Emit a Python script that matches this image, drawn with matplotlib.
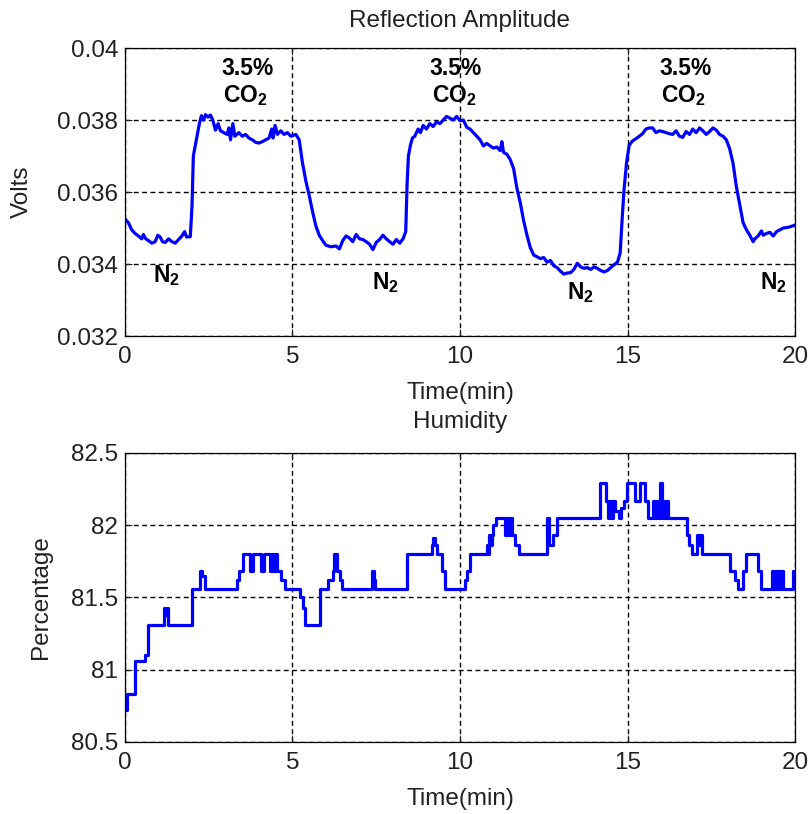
import matplotlib
matplotlib.use('Agg')
import matplotlib.pyplot as plt

plt.rcParams['font.family'] = ['Liberation Sans', 'DejaVu Sans']
plt.rcParams['mathtext.fontset'] = 'custom'
plt.rcParams['mathtext.rm'] = 'Liberation Sans'
plt.rcParams['mathtext.bf'] = 'Liberation Sans:bold'

# reflection amplitude (time in min, volts)
refl_t = [0.00, 0.10, 0.20, 0.30, 0.40, 0.50, 0.55, 0.62, 0.70, 0.80, 0.90, 0.98,
          1.05, 1.12, 1.20, 1.30, 1.40, 1.50, 1.60, 1.70, 1.78, 1.84, 1.95, 2.00,
          2.04, 2.10, 2.16, 2.22, 2.28, 2.35, 2.40, 2.48, 2.55, 2.62, 2.70, 2.78,
          2.85, 2.95, 3.05, 3.10, 3.15, 3.22, 3.28, 3.40, 3.50, 3.60, 3.70, 3.80,
          3.90, 4.00, 4.10, 4.20, 4.30, 4.38, 4.42, 4.48, 4.55, 4.65, 4.75, 4.85,
          4.95, 5.10, 5.20, 5.30, 5.40, 5.50, 5.60, 5.70, 5.80, 5.90, 6.00, 6.15,
          6.30, 6.40, 6.50, 6.60, 6.70, 6.80, 6.90, 7.00, 7.10, 7.20, 7.30, 7.40,
          7.50, 7.60, 7.70, 7.80, 7.90, 8.00, 8.10, 8.20, 8.30, 8.38, 8.42, 8.46,
          8.52, 8.58, 8.65, 8.75, 8.82, 8.90, 9.00, 9.10, 9.20, 9.30, 9.40, 9.50,
          9.60, 9.70, 9.80, 9.90, 10.00, 10.10, 10.20, 10.30, 10.40, 10.50, 10.60,
          10.70, 10.80, 10.90, 11.00, 11.10, 11.20, 11.25, 11.30, 11.40, 11.50,
          11.60, 11.70, 11.80, 11.90, 12.00, 12.10, 12.20, 12.30, 12.40, 12.50,
          12.60, 12.70, 12.80, 12.90, 13.00, 13.10, 13.20, 13.30, 13.40, 13.50,
          13.60, 13.70, 13.80, 13.90, 14.00, 14.10, 14.20, 14.30, 14.40, 14.50,
          14.60, 14.70, 14.78, 14.85, 14.90, 14.97, 15.05, 15.15, 15.25, 15.35,
          15.45, 15.55, 15.65, 15.75, 15.85, 15.95, 16.05, 16.15, 16.25, 16.35,
          16.45, 16.55, 16.65, 16.75, 16.85, 16.95, 17.05, 17.15, 17.25, 17.35,
          17.45, 17.55, 17.65, 17.75, 17.85, 17.95, 18.05, 18.15, 18.25, 18.35,
          18.45, 18.55, 18.65, 18.75, 18.80, 18.90, 19.00, 19.05, 19.15, 19.25,
          19.35, 19.45, 19.55, 19.65, 19.80, 20.00]
refl_v = [0.03525, 0.03515, 0.03495, 0.03485, 0.03478, 0.03470, 0.03482, 0.03470,
          0.03465, 0.03458, 0.03462, 0.03480, 0.03475, 0.03462, 0.03460, 0.03470,
          0.03462, 0.03458, 0.03468, 0.03478, 0.03490, 0.03475, 0.03476, 0.03560,
          0.03700, 0.03730, 0.03760, 0.03790, 0.03812, 0.03800, 0.03815, 0.03808,
          0.03814, 0.03800, 0.03772, 0.03790, 0.03770, 0.03765, 0.03760, 0.03778,
          0.03745, 0.03790, 0.03755, 0.03765, 0.03755, 0.03760, 0.03750, 0.03745,
          0.03738, 0.03736, 0.03740, 0.03745, 0.03750, 0.03775, 0.03750, 0.03785,
          0.03760, 0.03770, 0.03760, 0.03765, 0.03755, 0.03760, 0.03745, 0.03680,
          0.03630, 0.03590, 0.03545, 0.03505, 0.03480, 0.03465, 0.03452, 0.03448,
          0.03450, 0.03442, 0.03465, 0.03478, 0.03472, 0.03462, 0.03482, 0.03470,
          0.03468, 0.03462, 0.03455, 0.03440, 0.03460, 0.03468, 0.03480, 0.03470,
          0.03462, 0.03455, 0.03468, 0.03458, 0.03470, 0.03490, 0.03620, 0.03700,
          0.03730, 0.03750, 0.03755, 0.03775, 0.03765, 0.03785, 0.03775, 0.03790,
          0.03782, 0.03795, 0.03790, 0.03800, 0.03810, 0.03805, 0.03800, 0.03810,
          0.03798, 0.03800, 0.03780, 0.03775, 0.03765, 0.03755, 0.03745, 0.03728,
          0.03735, 0.03728, 0.03722, 0.03725, 0.03715, 0.03740, 0.03710, 0.03705,
          0.03690, 0.03665, 0.03610, 0.03570, 0.03520, 0.03480, 0.03445, 0.03425,
          0.03420, 0.03415, 0.03418, 0.03405, 0.03410, 0.03395, 0.03390, 0.03380,
          0.03372, 0.03375, 0.03376, 0.03385, 0.03402, 0.03392, 0.03388, 0.03390,
          0.03385, 0.03392, 0.03388, 0.03382, 0.03378, 0.03382, 0.03390, 0.03398,
          0.03405, 0.03430, 0.03540, 0.03610, 0.03680, 0.03730, 0.03742, 0.03748,
          0.03755, 0.03762, 0.03775, 0.03778, 0.03778, 0.03765, 0.03770, 0.03768,
          0.03765, 0.03762, 0.03760, 0.03770, 0.03755, 0.03752, 0.03768, 0.03760,
          0.03775, 0.03765, 0.03778, 0.03770, 0.03760, 0.03768, 0.03778, 0.03772,
          0.03760, 0.03755, 0.03745, 0.03720, 0.03680, 0.03615, 0.03565, 0.03515,
          0.03495, 0.03480, 0.03462, 0.03470, 0.03478, 0.03492, 0.03480, 0.03485,
          0.03488, 0.03478, 0.03490, 0.03495, 0.03500, 0.03502, 0.03508]

# humidity, stepwise readings (time in min, percent)
hum_t = [0.00, 0.05, 0.30, 0.60, 0.68, 1.15, 1.20, 1.25, 1.29, 1.99, 2.24, 2.30,
         2.40, 3.33, 3.40, 3.53, 3.73, 3.83, 4.06, 4.16, 4.33, 4.38, 4.43, 4.48,
         4.53, 4.67, 4.77, 5.22, 5.32, 5.37, 5.82, 6.05, 6.20, 6.25, 6.32, 6.42,
         6.47, 7.36, 7.42, 7.46, 8.41, 9.15, 9.20, 9.25, 9.30, 9.45, 9.55, 10.15,
         10.20, 10.30, 10.80, 10.83, 10.86, 10.90, 10.95, 11.00, 11.08, 11.34,
         11.40, 11.45, 11.50, 11.56, 11.64, 11.76, 12.59, 12.66, 12.79, 12.89,
         14.18, 14.36, 14.42, 14.46, 14.52, 14.58, 14.64, 14.74, 14.80, 14.90,
         14.98, 15.22, 15.38, 15.52, 15.62, 15.77, 15.81, 15.86, 15.92, 15.97,
         16.02, 16.07, 16.12, 16.17, 16.22, 16.77, 16.85, 16.92, 17.06, 17.11,
         17.16, 17.21, 18.06, 18.22, 18.30, 18.45, 18.55, 18.90, 18.98, 19.30,
         19.35, 19.40, 19.45, 19.50, 19.55, 19.60, 19.65, 19.95, 20.00]
hum_v = [80.72, 80.83, 81.06, 81.10, 81.31, 81.43, 81.38, 81.43, 81.31, 81.56,
         81.68, 81.65, 81.56, 81.62, 81.68, 81.80, 81.68, 81.80, 81.68, 81.80,
         81.68, 81.80, 81.68, 81.80, 81.68, 81.62, 81.56, 81.50, 81.43, 81.31,
         81.56, 81.62, 81.68, 81.80, 81.68, 81.62, 81.56, 81.68, 81.62, 81.56,
         81.80, 81.86, 81.91, 81.86, 81.80, 81.68, 81.56, 81.62, 81.68, 81.80,
         81.86, 81.80, 81.93, 81.86, 81.93, 82.00, 82.05, 81.93, 82.05, 81.93,
         82.05, 81.93, 81.86, 81.80, 82.05, 81.86, 81.93, 82.05, 82.29, 82.17,
         82.05, 82.17, 82.05, 82.17, 82.10, 82.05, 82.12, 82.17, 82.29, 82.17,
         82.29, 82.17, 82.05, 82.17, 82.05, 82.17, 82.05, 82.29, 82.05, 82.17,
         82.05, 82.17, 82.05, 81.93, 81.86, 81.80, 81.93, 81.86, 81.93, 81.80,
         81.68, 81.62, 81.56, 81.68, 81.80, 81.68, 81.56, 81.68, 81.56, 81.68,
         81.56, 81.68, 81.56, 81.68, 81.56, 81.68, 81.68]

x_ticks = [0, 5, 10, 15, 20]
refl_ticks = [0.032, 0.034, 0.036, 0.038, 0.04]
refl_labels = ['0.032', '0.034', '0.036', '0.038', '0.04']
hum_ticks = [80.5, 81, 81.5, 82, 82.5]
hum_labels = ['80.5', '81', '81.5', '82', '82.5']

# gas labels: (time, volts) of the top of each label
co2_t = [3.65, 9.88, 16.72]
n2_t = [1.25, 7.78, 13.6, 19.35]
n2_v = [0.03403, 0.03383, 0.03356, 0.03383]

fs = 17.5
fig = plt.figure(figsize=(8.09, 8.14), dpi=100)
ax1 = fig.add_axes([0.1545, 0.5872, 0.8282, 0.3538])
ax2 = fig.add_axes([0.1545, 0.0885, 0.8282, 0.3550])


def style(ax):
    ax.grid(True, color='black', linestyle=(0, (3.5, 2.5)), linewidth=1.0)
    ax.tick_params(direction='in', length=5, width=0.8, top=True, right=True,
                   labelsize=fs, pad=5, colors='#222222')
    ax.tick_params(axis='x', pad=7)
    for s in ax.spines.values():
        s.set_linewidth(0.9)
    ax.set_xlim(0, 20)
    ax.set_xticks(x_ticks)
    ax.set_xlabel('Time(min)', fontsize=fs, labelpad=10, color='#222222')


ax1.plot(refl_t, refl_v, color='#0000ff', linewidth=2.3)
ax1.set_ylim(0.032, 0.04)
ax1.set_yticks(refl_ticks)
ax1.set_yticklabels(refl_labels)
style(ax1)
ax1.set_title('Reflection Amplitude', fontsize=fs, pad=15, color='#222222')
ax1.set_ylabel('Volts', fontsize=fs, color='#222222')
ax1.yaxis.set_label_coords(-0.137, 0.5)

for t in co2_t:
    ax1.text(t, 0.03976, '3.5%', ha='center', va='top', fontsize=16.5,
             fontweight='bold')
    ax1.text(t - 0.05, 0.03902, r'$\mathbf{CO_2}$', ha='center', va='top',
             fontsize=16.5)
for t, v in zip(n2_t, n2_v):
    ax1.text(t, v, r'$\mathbf{N_2}$', ha='center', va='top', fontsize=16.5)

ax2.plot(hum_t, hum_v, color='#0000ff', linewidth=2.3, drawstyle='steps-post')
ax2.set_ylim(80.5, 82.5)
ax2.set_yticks(hum_ticks)
ax2.set_yticklabels(hum_labels)
style(ax2)
ax2.set_title('Humidity', fontsize=fs, pad=18, color='#222222')
ax2.set_ylabel('Percentage', fontsize=fs, color='#222222')
ax2.yaxis.set_label_coords(-0.109, 0.5)

fig.savefig('out.png', dpi=100)
